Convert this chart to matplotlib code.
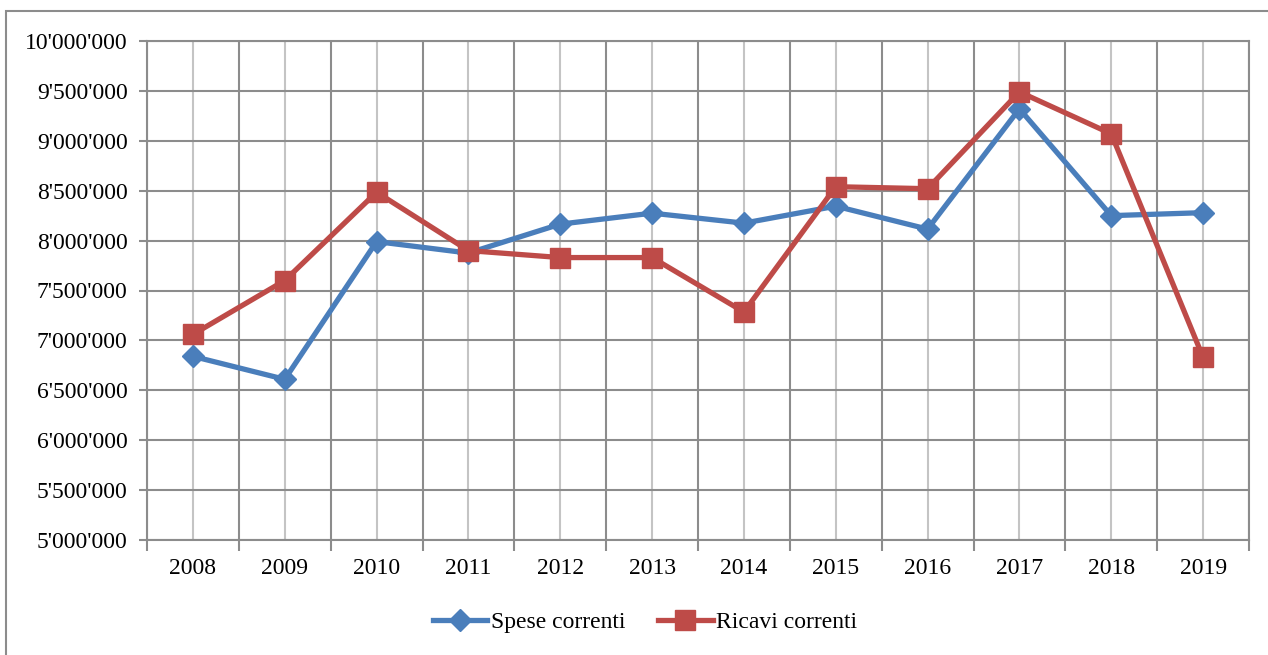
import matplotlib.pyplot as plt
from matplotlib.patches import Rectangle
import numpy as np

years = ['2008', '2009', '2010', '2011', '2012', '2013', '2014', '2015', '2016', '2017', '2018', '2019']
spese = [6840000, 6610000, 7990000, 7875000, 8165000, 8275000, 8175000, 8345000, 8115000, 9320000, 8250000, 8280000]
ricavi = [7060000, 7600000, 8485000, 7900000, 7830000, 7830000, 7285000, 8540000, 8520000, 9490000, 9070000, 6830000]
y_ticks = [5000000 + 500000 * i for i in range(11)]
y_labels = ["{:,}".format(v).replace(',', "'") for v in y_ticks]

plt.rcParams['font.family'] = ['Liberation Serif', 'DejaVu Serif']

W, H = 1268, 655
fig = plt.figure(figsize=(W / 100, H / 100), dpi=100)
fig.patches.append(Rectangle((6 / W, -0.1), 1.2, (H - 11) / H + 0.1, transform=fig.transFigure,
                             fill=False, edgecolor='#8c8c8c', linewidth=1.5))

ax = fig.add_axes([147 / W, (H - 540) / H, 1102 / W, 499 / H])
x = np.arange(len(years))

ax.plot(x, spese, color='#4a7ebb', linewidth=3.8, marker='D', markersize=11, label='Spese correnti', zorder=3)
ax.plot(x, ricavi, color='#be4b48', linewidth=3.8, marker='s', markersize=14, label='Ricavi correnti', zorder=3)

ax.set_xlim(-0.5, len(years) - 0.5)
ax.set_ylim(5000000, 10000000)
ax.set_yticks(y_ticks)
ax.set_yticklabels(y_labels, fontsize=17)
ax.set_xticks(x)
ax.set_xticklabels(years, fontsize=17)
ax.set_xticks(np.arange(-0.5, len(years), 1), minor=True)

ax.tick_params(axis='x', which='major', length=0, pad=13)
ax.tick_params(axis='x', which='minor', length=8, color='#8c8c8c', width=1.5)
ax.tick_params(axis='y', length=6, color='#8c8c8c', width=1.5, pad=8)

ax.grid(axis='y', color='#8c8c8c', linewidth=1.5)
ax.grid(axis='x', which='major', color='#c4c4c4', linewidth=1.5)
ax.grid(axis='x', which='minor', color='#8c8c8c', linewidth=1.5)
ax.set_axisbelow(True)
for s in ax.spines.values():
    s.set_color('#8c8c8c')
    s.set_linewidth(1.5)

ax.legend(loc='center', bbox_to_anchor=(645 / W, (H - 622) / H), bbox_transform=fig.transFigure,
          ncol=2, frameon=False, fontsize=17, handlelength=2.3, handletextpad=0.15, columnspacing=1.4)

fig.savefig('out.png', dpi=100)
